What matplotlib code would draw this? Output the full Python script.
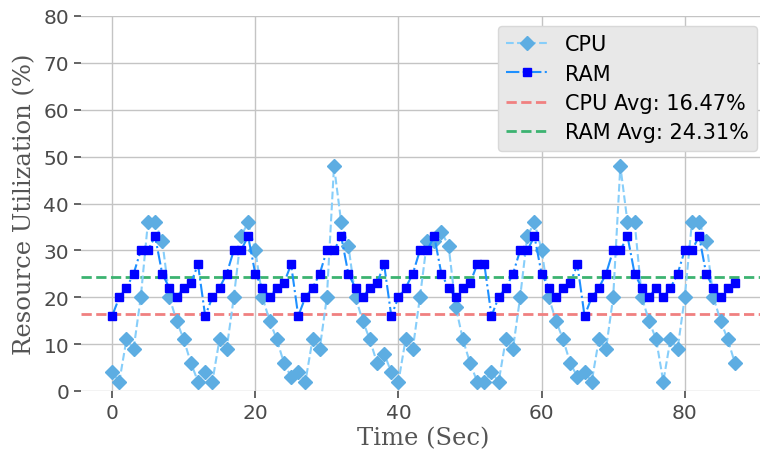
import matplotlib
matplotlib.use("Agg")
import matplotlib.pyplot as plt
import numpy as np

time_sec = list(range(88))
cpu = [4, 2, 11, 9, 20, 36, 36, 32, 20, 15, 11, 6, 2, 4, 2, 11, 9, 20, 33, 36,
       30, 20, 15, 11, 6, 3, 4, 2, 11, 9, 20, 48, 36, 31, 20, 15, 11, 6, 8, 4,
       2, 11, 9, 20, 32, 32, 34, 31, 18, 11, 6, 2, 2, 4, 2, 11, 9, 20, 33, 36,
       30, 20, 15, 11, 6, 3, 4, 2, 11, 9, 20, 48, 36, 36, 20, 15, 11, 2, 11, 9,
       20, 36, 36, 32, 20, 15, 11, 6]
ram = [16, 20, 22, 25, 30, 30, 33, 25, 22, 20, 22, 23, 27, 16, 20, 22, 25, 30, 30, 33,
       25, 22, 20, 22, 23, 27, 16, 20, 22, 25, 30, 30, 33, 25, 22, 20, 22, 23, 27, 16,
       20, 22, 25, 30, 30, 33, 25, 22, 20, 22, 23, 27, 27, 16, 20, 22, 25, 30, 30, 33,
       25, 22, 20, 22, 23, 27, 16, 20, 22, 25, 30, 30, 33, 25, 22, 20, 22, 20, 22, 25,
       30, 30, 33, 25, 22, 20, 22, 23]

cpu_avg = float(np.mean(cpu))
ram_avg = float(np.mean(ram))

fig = plt.figure(figsize=(7.6, 4.6), dpi=100)
ax = fig.add_axes([81/760, 68/460, 685/760, 375/460])
ax.set_facecolor("white")

ax.plot(time_sec, cpu, linestyle="--", color="#87CEFA", linewidth=1.5,
        marker="D", markersize=7, markerfacecolor="#5DADE2", markeredgecolor="#5DADE2",
        label="CPU", zorder=3)
ax.plot(time_sec, ram, linestyle="-.", color="#1E90FF", linewidth=1.5,
        marker="s", markersize=6, markerfacecolor="#0000FF", markeredgecolor="#0000FF",
        label="RAM", zorder=4)
ax.axhline(cpu_avg, color="#F08080", linestyle="--", linewidth=2,
           label=f"CPU Avg: {cpu_avg:.2f}%", zorder=2)
ax.axhline(ram_avg, color="#3CB371", linestyle="--", linewidth=2,
           label=f"RAM Avg: {ram_avg:.2f}%", zorder=2)

ax.set_xlim(-4.35, 91.35)
ax.set_ylim(0, 80)
ax.set_xticks([0, 20, 40, 60, 80])
ax.set_yticks(range(0, 81, 10))
ax.grid(True, color="#c4c4c4", linewidth=1)
ax.set_axisbelow(True)
for s in ax.spines.values():
    s.set_visible(False)
ax.tick_params(axis="both", labelsize=14.5, colors="#4a4a4a", length=5, width=1.2,
               direction="out")

ax.set_xlabel("Time (Sec)", family="DejaVu Serif", fontsize=17.5, color="#555555",
              labelpad=3)
ax.set_ylabel("Resource Utilization (%)", family="DejaVu Serif", fontsize=17.5,
              color="#555555", labelpad=5)

leg = ax.legend(loc="upper right", bbox_to_anchor=(757/685 - 81/685, 1 - 10/375),
                fontsize=15, facecolor="#e8e8e8", edgecolor="#d8d8d8", framealpha=1,
                borderaxespad=0, labelspacing=0.45)
leg.get_frame().set_linewidth(1)

fig.savefig("out.png", dpi=100)
